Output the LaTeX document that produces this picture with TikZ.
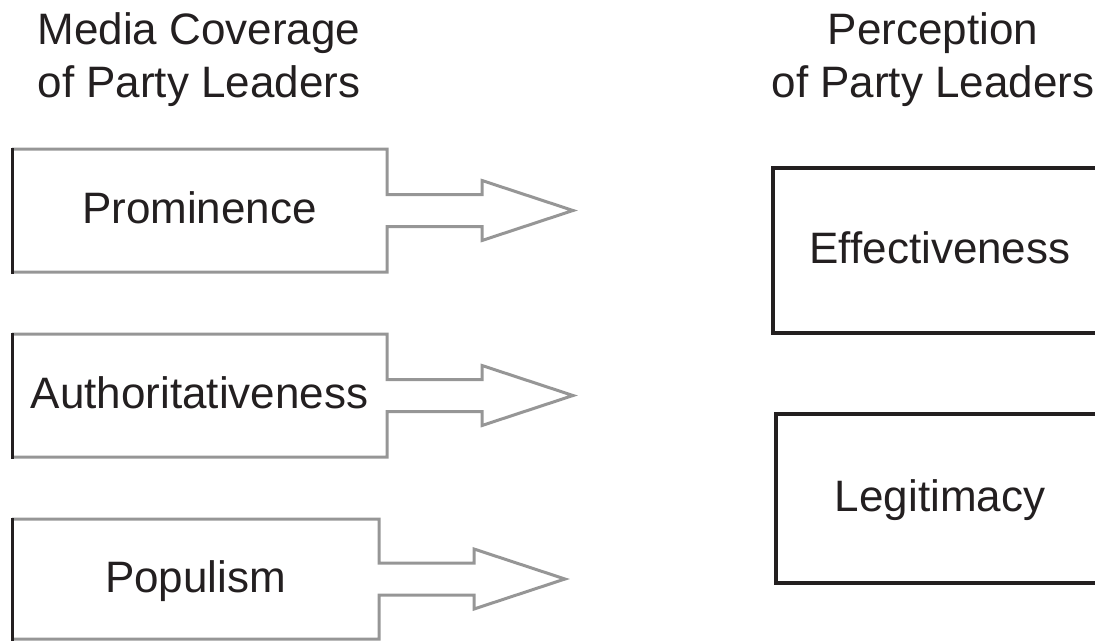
\documentclass[tikz,border=0pt]{standalone}
\usepackage{fontspec}
\setmainfont{Liberation Sans}
\definecolor{inkdark}{RGB}{35,31,32}
\definecolor{framegray}{RGB}{150,150,150}
\tikzset{
  bigtext/.style={font=\fontsize{44}{53}\selectfont, text=inkdark},
  heading/.style={bigtext, align=center, inner sep=0pt},
  coveragebox/.style={bigtext, inner sep=0pt, outer sep=0pt, minimum height=123pt, text height=32pt, text depth=6pt},
  perceptionbox/.style={bigtext, draw=inkdark, line width=3.5pt, inner sep=0pt, outer sep=0pt, text height=32pt, text depth=6pt},
  outline/.style={draw=framegray, line width=3pt, line join=miter}
}
% box outline with its open arrow, left edge in black
\newcommand{\boxarrow}[1]{%
  \draw[outline] (#1.north west) -- (#1.north east) -- ([yshift=16pt]#1.east) -- ++(95pt,0pt) -- ++(0pt,14pt)
    -- ([xshift=186pt]#1.east) -- ++(-91pt,-30pt) -- ++(0pt,14pt) -- ([yshift=-16pt]#1.east)
    -- (#1.south east) -- (#1.south west);
  \draw[inkdark, line width=3pt, line cap=rect] (#1.south west) -- (#1.north west);
}
\begin{document}
\begin{tikzpicture}[x=1pt,y=-1pt]
    \useasboundingbox (0,0) rectangle (1095,642);
    \clip (0,0) rectangle (1095,642);
    % headings
    \node[heading] (covertitle) at (199,60) {Media Coverage\\of Party Leaders};
    \node[heading] (perctitle) at (933,60) {Perception\\of Party Leaders};
    % media coverage
    \node[coveragebox, minimum width=375pt] (prominence) at (199.5,210.5) {Prominence};
    \node[coveragebox, minimum width=375pt] (authority) at (199.5,395.5) {Authoritativeness};
    \node[coveragebox, minimum width=367pt, minimum height=120pt] (populism) at (195.5,579) {Populism};
    \boxarrow{prominence}
    \boxarrow{authority}
    \boxarrow{populism}
    % perception
    \node[perceptionbox, minimum width=334pt, minimum height=165pt] (effective) at (940,250.5) {Effectiveness};
    \node[perceptionbox, minimum width=328pt, minimum height=169pt] (legitimacy) at (940,498.5) {Legitimacy};
\end{tikzpicture}
\end{document}
